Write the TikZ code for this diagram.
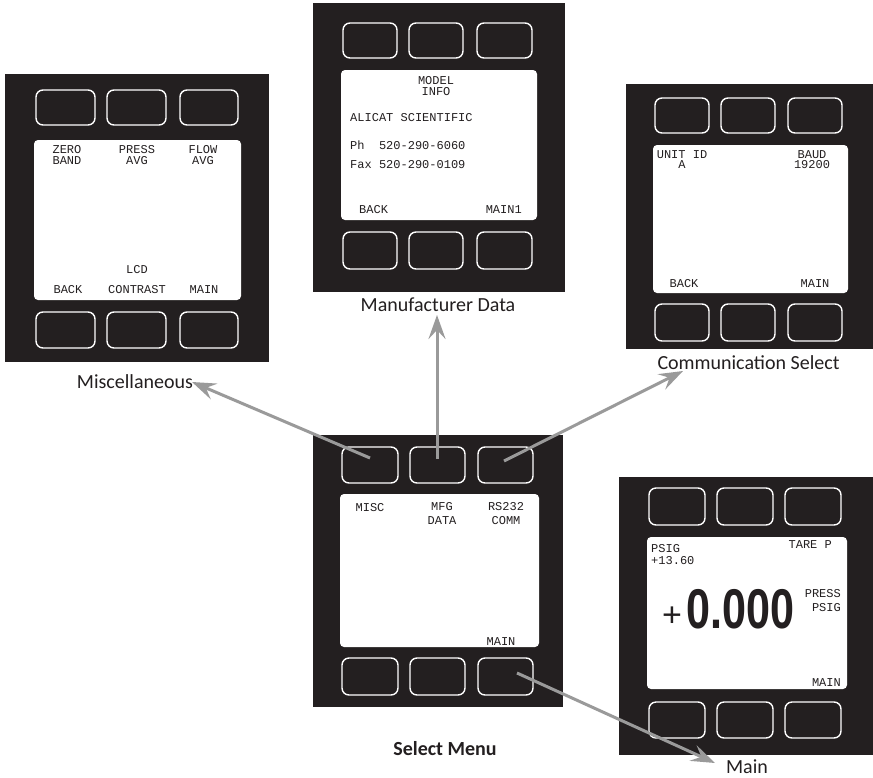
\documentclass[tikz,border=0pt]{standalone}
\usepackage{fontspec}
\usetikzlibrary{arrows.meta}
\newfontfamily\lcdf{Liberation Mono}
\newfontfamily\capf{Carlito}
\newfontfamily\digf{Liberation Sans}
\definecolor{pblack}{HTML}{231F20}
\definecolor{agray}{HTML}{9A9A9A}
\begin{document}
\begin{tikzpicture}[x=1pt,y=-1pt,
  panelbg/.style={fill=pblack},
  scr/.style={fill=white, rounded corners=4pt},
  btn/.style={draw=white, line width=1.4pt, rounded corners=7pt},
  lcd/.style={font=\lcdf\fontsize{12}{12}\selectfont, text=pblack, inner sep=0pt, anchor=base},
  lcdl/.style={lcd, anchor=base west},
  lcdr/.style={lcd, anchor=base east},
  captext/.style={font=\capf\fontsize{20}{20}\selectfont, text=pblack, inner sep=0pt, anchor=base},
  arr/.style={draw=agray, line width=3pt, -{Stealth[length=24pt,width=17pt,inset=9pt]}}]
\useasboundingbox (0,0) rectangle (873,777);
\fill[white] (0,0) rectangle (873,777);

% ---------- Miscellaneous panel
\fill[panelbg] (5,74) rectangle (269,362);
\fill[scr] (34,140) rectangle (241,300);
\foreach \a/\b in {36/95,107/166,180/238}{
  \draw[btn] (\a,90) rectangle (\b,125);
  \draw[btn] (\a,312) rectangle (\b,348);}
\node[lcd] (mz1) at (67,153) {ZERO};
\node[lcd] (mz2) at (67,164.5) {BAND};
\node[lcd] (mp1) at (137,153) {PRESS};
\node[lcd] (mp2) at (137,164.5) {AVG};
\node[lcd] (mf1) at (203,153) {FLOW};
\node[lcd] (mf2) at (203,164.5) {AVG};
\node[lcd] (mlcd) at (137,273) {LCD};
\node[lcd] (mback) at (68,293) {BACK};
\node[lcd] (mcon) at (137,293) {CONTRAST};
\node[lcd] (mmain) at (204,293) {MAIN};
\node[captext] (capMisc) at (135,388) {Miscellaneous};

% ---------- Manufacturer panel
\fill[panelbg] (313,3) rectangle (565,292);
\fill[scr] (341,70) rectangle (537,220);
\foreach \a/\b in {343/397,409/463,477/532}{
  \draw[btn] (\a,23) rectangle (\b,58);
  \draw[btn] (\a,232) rectangle (\b,269);}
\node[lcd] (fmod) at (436,84) {MODEL};
\node[lcd] (finfo) at (436,95) {INFO};
\node[lcdl] (fali) at (350,121) {ALICAT SCIENTIFIC};
\node[lcdl] (fph) at (350,149) {Ph\ \ 520-290-6060};
\node[lcdl] (ffax) at (350,168) {Fax 520-290-0109};
\node[lcdl] (fback) at (359,213) {BACK};
\node[lcdr] (fmain) at (522,213) {MAIN1};
\node[captext] (capMfg) at (438,311) {Manufacturer Data};

% ---------- Communication panel
\fill[panelbg] (626,84) rectangle (873,349);
\fill[scr] (653,145) rectangle (848,293);
\foreach \a/\b in {655/709,721/775,788/842}{
  \draw[btn] (\a,98) rectangle (\b,133);
  \draw[btn] (\a,304) rectangle (\b,341);}
\node[lcd] (cuid) at (682,158) {UNIT ID};
\node[lcd] (ca) at (682,168.5) {A};
\node[lcd] (cbaud) at (812,158) {BAUD};
\node[lcd] (crate) at (812,168.5) {19200};
\node[lcd] (cback) at (684,287) {BACK};
\node[lcd] (cmain) at (815,287) {MAIN};
\node[captext] (capComm) at (748.5,369) {Communication Select};

% ---------- Select menu panel
\fill[panelbg] (313,435) rectangle (563,707);
\fill[scr] (340,494) rectangle (539,647);
\foreach \a/\b in {342/398,410/465,478/533}{
  \draw[btn] (\a,447) rectangle (\b,483);
  \draw[btn] (\a,658) rectangle (\b,695);}
\node[lcd] (smisc) at (370,511) {MISC};
\node[lcd] (smfg) at (442,510) {MFG};
\node[lcd] (sdata) at (442,524) {DATA};
\node[lcd] (srs) at (506,510) {RS232};
\node[lcd] (scomm) at (506,524) {COMM};
\node[lcd] (smain) at (501,645) {MAIN};
\node[captext, font=\capf\bfseries\fontsize{20}{20}\selectfont] (capSel) at (445,755) {Select Menu};

% ---------- Main panel
\fill[panelbg] (619,477) rectangle (873,755);
\fill[scr] (647,537) rectangle (847,689);
\foreach \a/\b in {649/705,717/773,785/841}{
  \draw[btn] (\a,488) rectangle (\b,525);
  \draw[btn] (\a,702) rectangle (\b,738);}
\node[lcdl] (npsig) at (651,552) {PSIG};
\node[lcdl] (nval) at (651,564) {+13.60};
\node[lcdr] (ntare) at (832,548) {TARE P};
\node[lcdr] (npress) at (841,597) {PRESS};
\node[lcdr] (npsig2) at (841,611) {PSIG};
\node[lcdr] (nmain) at (841,686) {MAIN};
\node[inner sep=0pt, text=pblack, font=\digf\fontsize{34}{34}\selectfont] (nplus) at (672,617) {+};
\node[inner sep=0pt, anchor=base west, text=pblack, font=\digf\bfseries\fontsize{56}{56}\selectfont] (ndig) at (686,628) {\scalebox{0.77}[1]{0.000}};
\node[captext] (capMain) at (747,773) {Main};

% ---------- arrows
\coordinate (a1s) at (370,458);
\coordinate (a1e) at (192,382);
\coordinate (a2s) at (437,459);
\coordinate (a2e) at (437,315);
\coordinate (a3s) at (504,461);
\coordinate (a3e) at (683,371);
\coordinate (a4s) at (517,673);
\coordinate (a4e) at (715,763);
\draw[arr] (a1s) -- (a1e);
\draw[arr] (a2s) -- (a2e);
\draw[arr] (a3s) -- (a3e);
\draw[arr] (a4s) -- (a4e);
\end{tikzpicture}
\end{document}
